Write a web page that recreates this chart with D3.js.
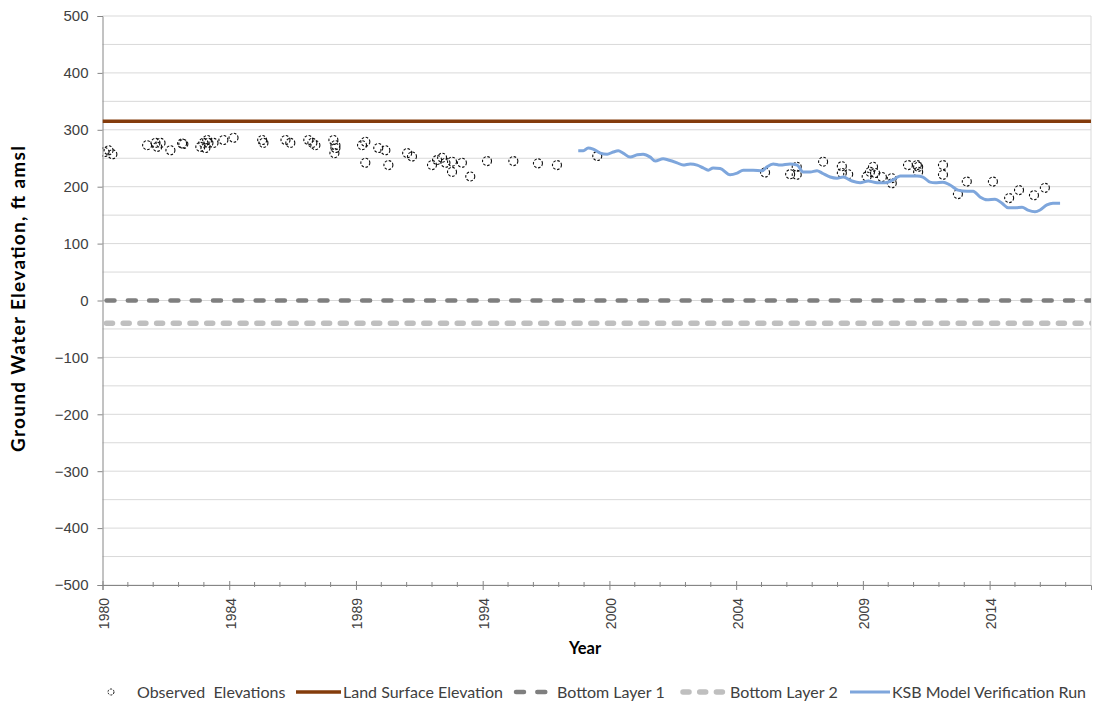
<!DOCTYPE html>
<html>
<head>
<meta charset="utf-8">
<script src="https://cdn.jsdelivr.net/npm/d3@7/dist/d3.min.js"></script>
<style>
  html, body { margin: 0; padding: 0; background: #fff; }
  svg { display: block; font-family: Lato, "Liberation Sans", Arial, sans-serif; }
</style>
</head>
<body>
<svg id="chart" width="1094" height="707"></svg>
<script>
// Observed well elevations (decimal year, ft amsl)
const obsYear = [
  1980.08, 1980.24, 1980.39, 1981.76, 1982.09, 1982.16, 1982.29, 1982.68, 1983.14, 1983.19,
  1983.86, 1983.98, 1984.13, 1984.18, 1984.06, 1984.38, 1984.77, 1985.17, 1986.30, 1986.35,
  1987.22, 1987.41, 1988.12, 1988.28, 1988.40, 1989.11, 1989.19, 1989.19, 1989.15, 1990.24,
  1990.37, 1990.37, 1990.88, 1991.16, 1991.28, 1992.02, 1992.21, 1993.00, 1993.20, 1993.40,
  1993.53, 1993.79, 1993.79, 1994.18, 1994.51, 1995.17, 1996.21, 1997.18, 1997.93, 1999.52,
  2006.14, 2007.13, 2007.39, 2007.39, 2008.43, 2009.17, 2009.17, 2009.42, 2010.15, 2010.28,
  2010.40, 2010.48, 2010.75, 2011.14, 2011.14, 2011.78, 2012.13, 2012.18, 2012.18, 2013.16,
  2013.16, 2013.75, 2014.10, 2015.13, 2015.77, 2016.16, 2016.75, 2017.18
];
const obsValue = [
  261, 264, 257, 273, 277, 270, 277, 264, 276, 275,
  270, 277, 282, 277, 268, 277, 282, 286, 282, 277,
  282, 277, 282, 277, 273, 282, 273, 268, 259, 273,
  279, 242, 268, 264, 238, 259, 253, 238, 247, 251,
  242, 244, 226, 242, 218, 245, 245, 241, 238, 254,
  225, 222, 235, 221, 244, 236, 224, 222, 218, 226,
  235, 224, 217, 215, 206, 238, 238, 235, 226, 238,
  221, 187, 209, 209, 180, 194, 185, 198
];

// KSB model verification run (decimal year, ft amsl)
const modelYear = [
  1998.77, 1998.97, 1999.16, 1999.36, 1999.64, 1999.91, 2000.15, 2000.35, 2000.54, 2000.82,
  2001.10, 2001.33, 2001.61, 2001.81, 2002.12, 2002.32, 2002.67, 2002.91, 2003.19, 2003.46,
  2003.70, 2003.90, 2004.09, 2004.37, 2004.76, 2005.04, 2005.28, 2005.67, 2006.03, 2006.22,
  2006.46, 2006.74, 2007.13, 2007.41, 2007.64, 2007.92, 2008.19, 2008.39, 2008.71, 2008.98,
  2009.22, 2009.57, 2009.89, 2010.21, 2010.56, 2010.88, 2011.19, 2011.47, 2011.86, 2012.14,
  2012.37, 2012.65, 2012.85, 2013.16, 2013.44, 2013.75, 2014.11, 2014.35, 2014.62, 2014.90,
  2015.21, 2015.49, 2015.73, 2016.00, 2016.28, 2016.51, 2016.79, 2016.99, 2017.26, 2017.50,
  2017.78
];
const modelValue = [
  263, 263, 268, 266, 259, 257, 261, 263, 259, 252,
  256, 257, 252, 245, 249, 247, 242, 238, 240, 238,
  233, 229, 233, 232, 221, 224, 229, 229, 228, 235,
  240, 238, 240, 238, 226, 226, 228, 224, 217, 215,
  217, 210, 207, 210, 207, 207, 212, 219, 219, 219,
  217, 208, 207, 208, 203, 194, 192, 192, 182, 177,
  178, 171, 163, 163, 164, 159, 156, 159, 168, 171,
  171
];

// Reference elevations (ft amsl)
const landSurface = 315;
const bottomLayer1 = 0;
const bottomLayer2 = -40;

// Axis ticks
const yTicks = [-500, -400, -300, -200, -100, 0, 100, 200, 300, 400, 500];
const yGrid = d3.range(-500, 501, 50);
const xMajorTicks = [1980, 1985, 1990, 1995, 2000, 2005, 2010, 2015];
const xTickLabels = ["1980", "1984", "1989", "1994", "2000", "2004", "2009", "2014"];
const xMinorTicks = d3.range(1981, 2019).filter(y => !xMajorTicks.includes(y));

const legendLabels = ["Observed  Elevations", "Land Surface Elevation", "Bottom Layer 1", "Bottom Layer 2", "KSB Model Verification Run"];

const colors = {
  land: "#843c0c",
  layer1: "#7f7f7f",
  layer2: "#bfbfbf",
  model: "#7ea6dc",
  grid: "#d9d9d9",
  axis: "#868686",
  text: "#404040"
};

const plot = { left: 102.5, right: 1091, top: 16, bottom: 585 };

const svg = d3.select("#chart");
const x = d3.scaleLinear().domain([1980, 2019]).range([plot.left, plot.right]);
const y = d3.scaleLinear().domain([-500, 500]).range([plot.bottom, plot.top]);

// Horizontal gridlines every 50 ft
svg.append("g").selectAll("line").data(yGrid).join("line")
  .attr("x1", plot.left).attr("x2", plot.right)
  .attr("y1", d => y(d)).attr("y2", d => y(d))
  .attr("stroke", colors.grid).attr("stroke-width", 1);

// Right border of the plot area
svg.append("line")
  .attr("x1", plot.right).attr("x2", plot.right)
  .attr("y1", plot.top).attr("y2", plot.bottom)
  .attr("stroke", colors.grid).attr("stroke-width", 1);

// Y axis
const yAxis = svg.append("g").attr("transform", `translate(${plot.left},0)`)
  .call(d3.axisLeft(y).tickValues(yTicks).tickSize(5).tickPadding(9));
yAxis.select(".domain").attr("stroke", colors.axis);
yAxis.selectAll(".tick line").attr("stroke", colors.axis);
yAxis.selectAll(".tick text")
  .attr("fill", colors.text)
  .style("font-size", "15px");

// X axis with yearly minor ticks
const xAxis = svg.append("g").attr("transform", `translate(0,${plot.bottom})`)
  .call(d3.axisBottom(x).tickValues(xMajorTicks).tickSize(5)
    .tickFormat((d, i) => xTickLabels[i]));
xAxis.select(".domain").attr("stroke", colors.axis);
xAxis.selectAll(".tick line").attr("stroke", colors.axis).attr("y1", -4);
xAxis.selectAll(".tick text")
  .attr("fill", colors.text)
  .style("font-size", "14px")
  .attr("text-anchor", "end")
  .attr("transform", "rotate(-90)")
  .attr("x", -13).attr("y", 1).attr("dy", "0.35em");

svg.append("g").selectAll("line").data(xMinorTicks).join("line")
  .attr("x1", d => x(d)).attr("x2", d => x(d))
  .attr("y1", plot.bottom - 3).attr("y2", plot.bottom + 2)
  .attr("stroke", colors.axis).attr("stroke-width", 1);

// Axis titles
svg.append("text")
  .attr("transform", `translate(18,299) rotate(-90)`)
  .attr("text-anchor", "middle")
  .attr("dy", "0.35em")
  .attr("font-weight", "bold")
  .style("font-size", "19px")
  .attr("fill", "#000")
  .attr("textLength", 306)
  .attr("lengthAdjust", "spacing")
  .text("Ground Water Elevation, ft amsl");

svg.append("text")
  .attr("x", 585).attr("y", 648)
  .attr("dy", "0.35em")
  .attr("text-anchor", "middle")
  .attr("font-weight", "bold")
  .style("font-size", "16.5px")
  .attr("fill", "#000")
  .text("Year");

// Clip to plot area
svg.append("clipPath").attr("id", "plot-clip").append("rect")
  .attr("x", plot.left).attr("y", plot.top)
  .attr("width", plot.right - plot.left).attr("height", plot.bottom - plot.top);
const g = svg.append("g").attr("clip-path", "url(#plot-clip)");

// Observed elevations
const observed = obsYear.map((yr, i) => ({ year: yr, value: obsValue[i] }));
g.append("g").selectAll("circle").data(observed).join("circle")
  .attr("cx", d => x(d.year)).attr("cy", d => y(d.value))
  .attr("r", 4.5)
  .attr("fill", "none")
  .attr("stroke", "#111")
  .attr("stroke-width", 1.1)
  .attr("stroke-dasharray", "2.6,1.6");

// Constant reference lines
const flat = v => [{ year: 1980, value: v }, { year: 2019, value: v }];
const line = d3.line().x(d => x(d.year)).y(d => y(d.value));

g.append("path").datum(flat(landSurface)).attr("d", line)
  .attr("fill", "none").attr("stroke", colors.land).attr("stroke-width", 3.5);

g.append("path").datum(flat(bottomLayer1)).attr("d", line)
  .attr("fill", "none").attr("stroke", colors.layer1).attr("stroke-width", 4.5)
  .attr("stroke-linecap", "round").attr("stroke-dasharray", "8,13.3")
  .attr("transform", "translate(4,0)");

g.append("path").datum(flat(bottomLayer2)).attr("d", line)
  .attr("fill", "none").attr("stroke", colors.layer2).attr("stroke-width", 5.5)
  .attr("stroke-linecap", "round").attr("stroke-dasharray", "6,10.7")
  .attr("transform", "translate(4,0)");

// Model verification run
const model = modelYear.map((yr, i) => ({ year: yr, value: modelValue[i] }));
g.append("path").datum(model).attr("d", line.curve(d3.curveMonotoneX))
  .attr("fill", "none").attr("stroke", colors.model).attr("stroke-width", 3)
  .attr("stroke-linejoin", "round");

// Legend
const legY = 692;
const leg = svg.append("g").style("font-size", "16px").attr("fill", colors.text);

leg.append("circle").attr("cx", 111).attr("cy", legY).attr("r", 3)
  .attr("fill", "none").attr("stroke", "#111").attr("stroke-width", 1)
  .attr("stroke-dasharray", "2,1.2");
leg.append("text").attr("x", 137).attr("y", legY).attr("dy", "0.35em").attr("xml:space", "preserve").text(legendLabels[0]);

leg.append("line").attr("x1", 296).attr("x2", 341).attr("y1", legY).attr("y2", legY)
  .attr("stroke", colors.land).attr("stroke-width", 3.5);
leg.append("text").attr("x", 343).attr("y", legY).attr("dy", "0.35em").text(legendLabels[1]);

leg.append("line").attr("x1", 516).attr("x2", 548).attr("y1", legY).attr("y2", legY)
  .attr("stroke", colors.layer1).attr("stroke-width", 4.5)
  .attr("stroke-linecap", "round").attr("stroke-dasharray", "8,13.3");
leg.append("text").attr("x", 557).attr("y", legY).attr("dy", "0.35em").text(legendLabels[2]);

leg.append("line").attr("x1", 683).attr("x2", 726).attr("y1", legY).attr("y2", legY)
  .attr("stroke", colors.layer2).attr("stroke-width", 5.5)
  .attr("stroke-linecap", "round").attr("stroke-dasharray", "6,10.7");
leg.append("text").attr("x", 730).attr("y", legY).attr("dy", "0.35em").text(legendLabels[3]);

leg.append("line").attr("x1", 850).attr("x2", 890).attr("y1", legY).attr("y2", legY)
  .attr("stroke", colors.model).attr("stroke-width", 3);
leg.append("text").attr("x", 892).attr("y", legY).attr("dy", "0.35em").text(legendLabels[4]);
</script>
</body>
</html>
